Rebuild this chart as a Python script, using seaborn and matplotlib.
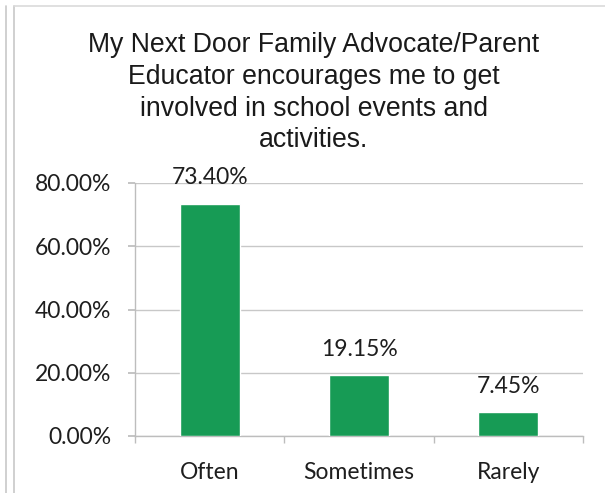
import matplotlib
matplotlib.use("Agg")
import matplotlib.pyplot as plt
from matplotlib.lines import Line2D
from matplotlib.ticker import FuncFormatter
import seaborn as sns
import pandas as pd

categories = ["Often", "Sometimes", "Rarely"]
values = [73.40, 19.15, 7.45]
value_labels = ["73.40%", "19.15%", "7.45%"]
y_ticks = [0, 20, 40, 60, 80]

title = ("My Next Door Family Advocate/Parent\nEducator encourages me to get\n"
         "involved in school events and\nactivities.")

sns.set_theme(style="white")
plt.rcParams["font.family"] = ["Lato", "DejaVu Sans"]

df = pd.DataFrame({"category": categories, "value": values})

fig = plt.figure(figsize=(6.05, 4.93), dpi=100)
ax = fig.add_axes([135 / 605, 1 - 436 / 493, (583 - 135) / 605, (436 - 183) / 493])

sns.barplot(data=df, x="category", y="value", color="#179B55", saturation=1,
            width=0.4, ax=ax, zorder=3)

ax.set_ylim(0, 80)
ax.set_xlim(-0.5, 2.5)
ax.set_yticks(y_ticks)
ax.yaxis.set_major_formatter(FuncFormatter(lambda v, p: f"{v:.2f}%"))
ax.grid(axis="y", color="#C8C8C8", linewidth=1.0, zorder=0)
ax.set_xlabel("")
ax.set_ylabel("")

for s in ["top", "right"]:
    ax.spines[s].set_visible(False)
for s in ["left", "bottom"]:
    ax.spines[s].set_color("#BDBDBD")
    ax.spines[s].set_linewidth(1.0)

ax.tick_params(axis="y", which="both", left=True, length=5, color="#BDBDBD",
               labelsize=16.5, labelcolor="#1E1E1E", pad=12)
ax.set_xticks([0, 1, 2])
ax.set_xticklabels(categories)
ax.tick_params(axis="x", bottom=False, labelsize=16.5, labelcolor="#1E1E1E", pad=13)
# category boundary ticks on the x axis
ax.set_xticks([-0.5, 0.5, 1.5, 2.5], minor=True)
ax.tick_params(axis="x", which="minor", bottom=True, length=5, color="#BDBDBD")

for i, (v, lab) in enumerate(zip(values, value_labels)):
    ax.annotate(lab, (i, v), xytext=(0, 19), textcoords="offset points",
                ha="center", va="center", fontsize=16.5, color="#1E1E1E")

fig.text(314 / 605, 1 - 32 / 493, title, ha="center", va="top",
         fontsize=19.2, family=["Liberation Sans", "DejaVu Sans"],
         color="#1A1A1A", linespacing=1.29)

# page frame lines
for x in (6, 14):
    fig.add_artist(Line2D([x / 605, x / 605], [0, 1 - 6 / 493],
                          transform=fig.transFigure, color="#C8C8C8", linewidth=1.2))
fig.add_artist(Line2D([14 / 605, 1], [1 - 6 / 493, 1 - 6 / 493],
                      transform=fig.transFigure, color="#DADADA", linewidth=1.2))

fig.savefig("out.png", dpi=100)
